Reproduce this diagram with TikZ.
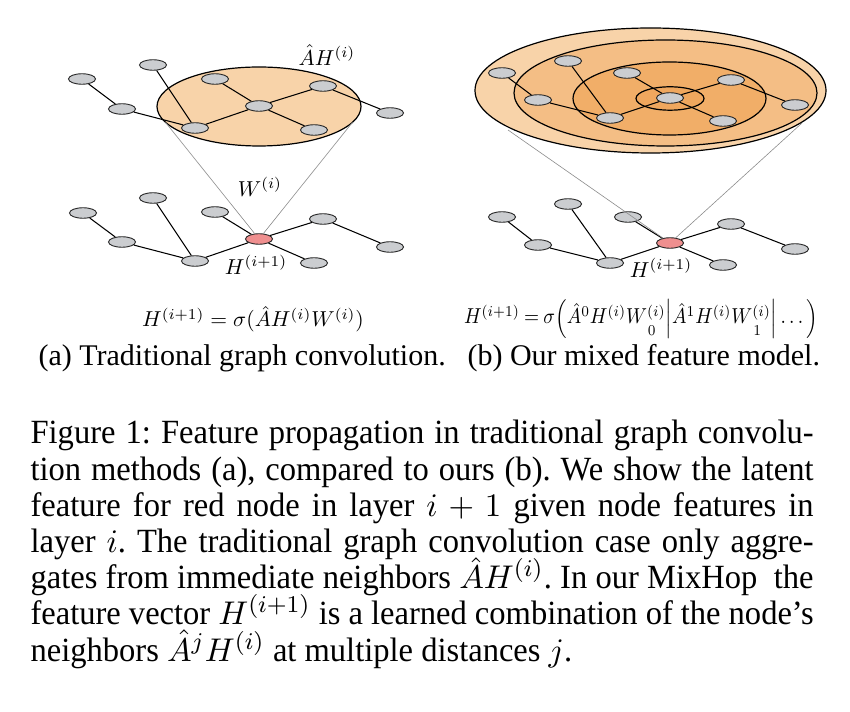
\documentclass[tikz,border=0pt]{standalone}
\usepackage{amsmath}
\usepackage{graphicx}
\usepackage[no-math]{fontspec}
\setmainfont{Liberation Serif}
\newfontfamily\capfont[FakeStretch=0.96]{Liberation Serif}
\usetikzlibrary{shapes.geometric}
\definecolor{nodegray}{HTML}{CBCDD0}
\definecolor{nodered}{HTML}{EF8F8F}
\definecolor{peach}{HTML}{F8D3A9}
\definecolor{ringb}{HTML}{F4BE85}
\definecolor{ringc}{HTML}{F1AE68}
\definecolor{ringd}{HTML}{EFA75E}
\newcommand{\lowsub}[1]{\mkern4mu\raisebox{-3pt}{$\scriptstyle #1$}}
\newcommand{\lblmath}[1]{\scalebox{0.72}{\fontsize{10}{12}\selectfont$#1$}}
\newcommand{\frmmath}[1]{\scalebox{0.72}{\fontsize{10}{12}\selectfont$#1$}}
\newcommand{\frmmathb}[1]{\scalebox{0.645}[0.72]{\fontsize{10}{12}\selectfont\thickmuskip=4mu$#1$}}
\tikzset{
  gn/.style={ellipse, draw=black!85, fill=nodegray, line width=0.3pt,
             minimum width=9pt, minimum height=3.5pt, inner sep=0pt},
  rn/.style={gn, fill=nodered},
  ed/.style={line width=0.35pt, draw=black},
  cone/.style={line width=0.2pt, draw=black!45},
  ring/.style={draw=black, line width=0.4pt},
  lbl/.style={inner sep=0pt},
  frm/.style={inner sep=0pt, anchor=base},
  subcap/.style={inner sep=0pt, anchor=base west, font=\fontsize{10}{12}\selectfont},
  capline/.style={inner sep=0pt, anchor=base west, font=\capfont\fontsize{11.3}{12}\selectfont},
}
\newcommand{\capl}[1]{\makebox[261pt][s]{#1}}
\frenchspacing
\begin{document}
\begin{tikzpicture}[x=0.33333pt, y=-0.33333pt]
\useasboundingbox (0,0) rectangle (850,712);
\fill[white] (0,0) rectangle (850,712);

% ---------------- left panel ----------------
\draw[ring, fill=peach] (259,106.5) ellipse [x radius=102, y radius=39.5];
\node[lbl] (lAH) at (327,55) {\lblmath{\hat{A}H^{(i)}}};
\node[lbl] (lW) at (260,187) {\lblmath{W^{(i)}}};
\node[lbl] (lH) at (256,265) {\lblmath{H^{(i+1)}}};

% top graph
\node[gn] (lt1) at (82,79) {};
\node[gn] (lt2) at (153,65) {};
\node[gn] (lt3) at (122,109) {};
\node[gn] (lt4) at (195,128) {};
\node[gn] (lt5) at (215,79) {};
\node[gn] (lt6) at (259,106) {};
\node[gn] (lt7) at (323,86) {};
\node[gn] (lt8) at (314,130) {};
\node[gn] (lt9) at (390,113) {};
\draw[ed] (lt1) -- (lt3) (lt3) -- (lt4) (lt2) -- (lt4) (lt4) -- (lt6)
          (lt5) -- (lt6) (lt6) -- (lt7) (lt6) -- (lt8) (lt7) -- (lt9);

% bottom graph
\node[gn] (lb1) at (83,213) {};
\node[gn] (lb2) at (153,198) {};
\node[gn] (lb3) at (122,242) {};
\node[gn] (lb4) at (195,261) {};
\node[gn] (lb5) at (215,212) {};
\node[rn] (lred) at (259,239) {};
\node[gn] (lb7) at (323,219) {};
\node[gn] (lb8) at (314,263) {};
\node[gn] (lb9) at (390,247) {};
\draw[ed] (lb1) -- (lb3) (lb3) -- (lb4) (lb2) -- (lb4) (lb4) -- (lred)
          (lb5) -- (lred) (lred) -- (lb7) (lred) -- (lb8) (lb7) -- (lb9);

\coordinate (lcL) at (165.5,122.3);
\coordinate (lcR) at (352.5,122.3);
\draw[cone] (lcL) -- (lred);
\draw[cone] (lcR) -- (lred);

% ---------------- right panel ----------------
\draw[ring, fill=peach] (650.5,90.5) ellipse [x radius=175.5, y radius=62.5];
\draw[ring, fill=ringb] (665.5,93) ellipse [x radius=151.5, y radius=53];
\draw[ring, fill=ringc] (669.5,98.5) ellipse [x radius=96.5, y radius=36.5];
\draw[ring, fill=ringd] (670,98.5) ellipse [x radius=34, y radius=11.7];

\node[gn] (rt1) at (502,73) {};
\node[gn] (rt2) at (568,61) {};
\node[gn] (rt3) at (538,100) {};
\node[gn] (rt4) at (610,118) {};
\node[gn] (rt5) at (627,73) {};
\node[gn] (rt6) at (670,98) {};
\node[gn] (rt7) at (731,80) {};
\node[gn] (rt8) at (723,121) {};
\node[gn] (rt9) at (795,105) {};
\draw[ed] (rt1) -- (rt3) (rt3) -- (rt4) (rt2) -- (rt4) (rt4) -- (rt6)
          (rt5) -- (rt6) (rt6) -- (rt7) (rt6) -- (rt8) (rt7) -- (rt9);

\node[gn] (rb1) at (502,217) {};
\node[gn] (rb2) at (568,204) {};
\node[gn] (rb3) at (538,245) {};
\node[gn] (rb4) at (610,263) {};
\node[gn] (rb5) at (628,217) {};
\node[rn] (rred) at (670,243) {};
\node[gn] (rb7) at (731,224) {};
\node[gn] (rb8) at (723,265) {};
\node[gn] (rb9) at (795,249) {};
\draw[ed] (rb1) -- (rb3) (rb3) -- (rb4) (rb2) -- (rb4) (rb4) -- (rred)
          (rb5) -- (rred) (rred) -- (rb7) (rred) -- (rb8) (rb7) -- (rb9);

\coordinate (rcL) at (508,130);
\coordinate (rcR) at (802,123);
\draw[cone] (rcL) -- (rred);
\draw[cone] (rcR) -- (rred);
\node[lbl] (rH) at (661,268) {\lblmath{H^{(i+1)}}};

% ---------------- formulas and sub-captions ----------------
\node[frm] (fa) at (253,327) {\frmmath{H^{(i+1)} = \sigma(\hat{A}H^{(i)}W^{(i)})}};
\node[frm] (fb) at (641,324) {\frmmathb{H^{(i+1)} = \sigma\Big(\hat{A}^0H^{(i)}W^{(i)}_{\lowsub{0}}\Big|\hat{A}^1H^{(i)}W^{(i)}_{\lowsub{1}}\Big|\ldots\Big)}};
\node[subcap] (sa) at (38,366) {(a) Traditional graph convolution.};
\node[subcap] (sb) at (467,366) {(b) Our mixed feature model.};

% ---------------- caption ----------------
\node[capline] (c1) at (30,444) {\capl{Figure 1: Feature propagation in traditional graph convolu-}};
\node[capline] (c2) at (30,480.2) {\capl{tion methods (a), compared to ours (b). We show the latent}};
\node[capline] (c3) at (30,516.3) {\capl{feature for red node in layer $i+1$ given node features in}};
\node[capline] (c4) at (30,552.5) {\capl{layer $i$. The traditional graph convolution case only aggre-}};
\node[capline] (c5) at (30,588.7) {\capl{gates from immediate neighbors $\hat{A}H^{(i)}$. In our MixHop\ \ the}};
\node[capline] (c6) at (30,624.8) {\capl{feature vector $H^{(i+1)}$ is a learned combination of the node’s}};
\node[capline] (c7) at (30,661) {neighbors $\hat{A}^jH^{(i)}$ at multiple distances $j$.};
\end{tikzpicture}
\end{document}
